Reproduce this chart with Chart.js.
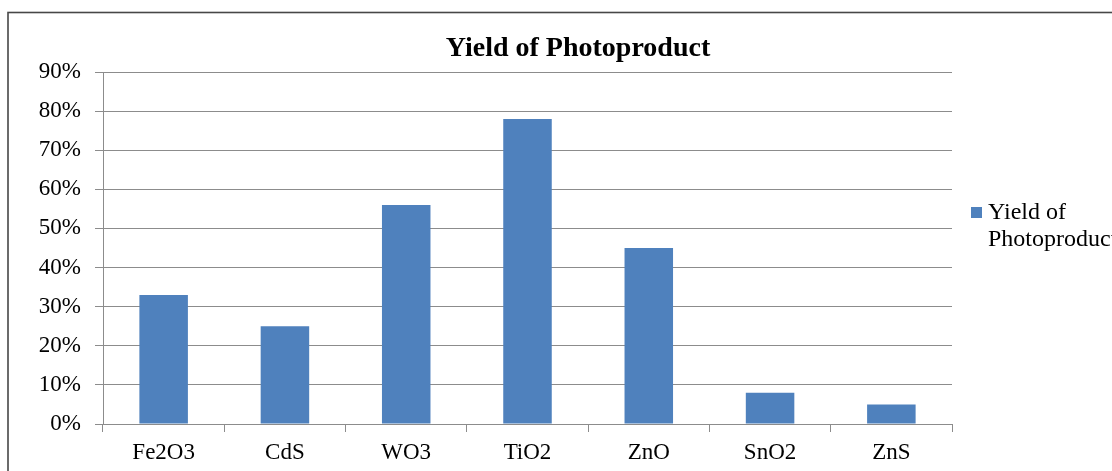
<!DOCTYPE html>
<html>
<head>
<meta charset="utf-8">
<script src="https://cdn.jsdelivr.net/npm/chart.js@4/dist/chart.umd.min.js"></script>
<style>
  html, body { margin: 0; padding: 0; background: #ffffff; }
  #wrap { width: 1112px; height: 471px; position: relative; }
  canvas { display: block; }
</style>
</head>
<body>
<div id="wrap"><canvas id="chart" width="1112" height="471"></canvas></div>
<script>
// Photocatalyst materials and the yield of photoproduct for each
const categories = ['Fe2O3', 'CdS', 'WO3', 'TiO2', 'ZnO', 'SnO2', 'ZnS'];
const yieldValues = [0.33, 0.25, 0.56, 0.78, 0.45, 0.08, 0.05];
const seriesName = 'Yield of Photoproduct';
const legendLines = ['Yield of', 'Photoproduct'];
const chartTitle = 'Yield of Photoproduct';
const yTicks = [0, 0.1, 0.2, 0.3, 0.4, 0.5, 0.6, 0.7, 0.8, 0.9];

const BAR_BLUE = '#4F81BD';
const GRID = '#8c8c8c';
const SERIF = '"Liberation Serif", "DejaVu Serif", serif';

// Outer frame, title and a wrapped legend entry
const decorations = {
  id: 'decorations',
  afterDraw(chart) {
    const ctx = chart.ctx;
    ctx.save();
    // frame
    ctx.strokeStyle = '#474747';
    ctx.lineWidth = 1.6;
    ctx.strokeRect(8, 12.5, 2000, 2000);
    // title
    ctx.fillStyle = '#000000';
    ctx.font = 'bold 28px ' + SERIF;
    ctx.textAlign = 'center';
    ctx.textBaseline = 'alphabetic';
    ctx.fillText(chartTitle, 578, 56);
    // legend
    const ds = chart.data.datasets[0];
    ctx.fillStyle = ds.backgroundColor;
    ctx.fillRect(971, 207, 11, 11);
    ctx.fillStyle = '#000000';
    ctx.font = '24px ' + SERIF;
    ctx.textAlign = 'left';
    legendLines.forEach((line, i) => ctx.fillText(line, 988, 219 + i * 27));
    ctx.restore();
  }
};

new Chart(document.getElementById('chart'), {
  type: 'bar',
  data: {
    labels: categories,
    datasets: [{
      label: seriesName,
      data: yieldValues,
      backgroundColor: BAR_BLUE,
      borderWidth: 0,
      categoryPercentage: 1.0,
      barPercentage: 0.4
    }]
  },
  options: {
    responsive: false,
    animation: false,
    layout: { padding: { left: 0, right: 160, top: 72, bottom: 0 } },
    plugins: {
      legend: { display: false },
      title: { display: false },
      tooltip: { enabled: false }
    },
    scales: {
      x: {
        offset: true,
        grid: {
          offset: true,
          drawOnChartArea: false,
          drawTicks: true,
          tickLength: 8,
          color: GRID
        },
        border: { color: GRID, width: 1 },
        ticks: {
          color: '#000000',
          font: { family: SERIF, size: 23 },
          padding: 7,
          maxRotation: 0
        },
        afterFit(scale) { scale.height = 47; }
      },
      y: {
        min: 0,
        max: 0.9,
        afterBuildTicks(scale) { scale.ticks = yTicks.map(v => ({ value: v })); },
        grid: { color: GRID, tickLength: 8, lineWidth: 1 },
        border: { color: GRID, width: 1 },
        ticks: {
          color: '#000000',
          font: { family: SERIF, size: 23 },
          padding: 14,
          callback: v => Math.round(v * 100) + '%'
        },
        afterFit(scale) { scale.width = 103; }
      }
    }
  },
  plugins: [decorations]
});
</script>
</body>
</html>
